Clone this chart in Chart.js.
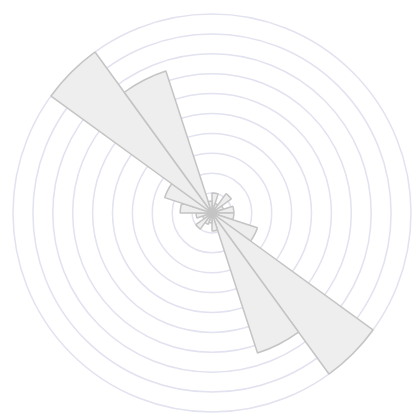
<!DOCTYPE html>
<html>
<head>
<meta charset="utf-8">
<style>
  html, body { margin: 0; padding: 0; background: #ffffff; }
  #wrap { width: 412px; height: 414px; }
</style>
<script src="https://cdn.jsdelivr.net/npm/chart.js@4/dist/chart.umd.min.js"></script>
</head>
<body>
<div id="wrap"><canvas id="rose" width="412" height="414"></canvas></div>
<script>
// Direction sectors, 18° each, clockwise from north
const sectors = ['0°', '18°', '36°', '54°', '72°', '90°', '108°', '126°', '144°', '162°',
                 '180°', '198°', '216°', '234°', '252°', '270°', '288°', '306°', '324°', '342°'];

// Frequency per sector
const counts = [1.0, 0.5, 1.2, 0.6, 1.1, 1.1, 2.4, 10, 7.4, 0.9,
                0.5, 0.6, 1.0, 0.5, 0.8, 1.6, 2.5, 10, 7.5, 0.6];

// Radial ring values
const ringMax = 10;
const ringStep = 1;

new Chart(document.getElementById('rose'), {
  type: 'polarArea',
  data: {
    labels: sectors,
    datasets: [{
      data: counts,
      backgroundColor: '#eeeeee',
      borderColor: '#c4c4c4',
      borderWidth: 1.5
    }]
  },
  options: {
    responsive: false,
    animation: false,
    layout: { padding: { left: 12, right: 0, top: 14, bottom: 2 } },
    plugins: { legend: { display: false }, tooltip: { enabled: false } },
    scales: {
      r: {
        min: 0,
        max: ringMax,
        ticks: { display: false, stepSize: ringStep },
        grid: { color: '#e2e2f0', lineWidth: 1.5 },
        angleLines: { display: false },
        pointLabels: { display: false }
      }
    }
  }
});
</script>
</body>
</html>
